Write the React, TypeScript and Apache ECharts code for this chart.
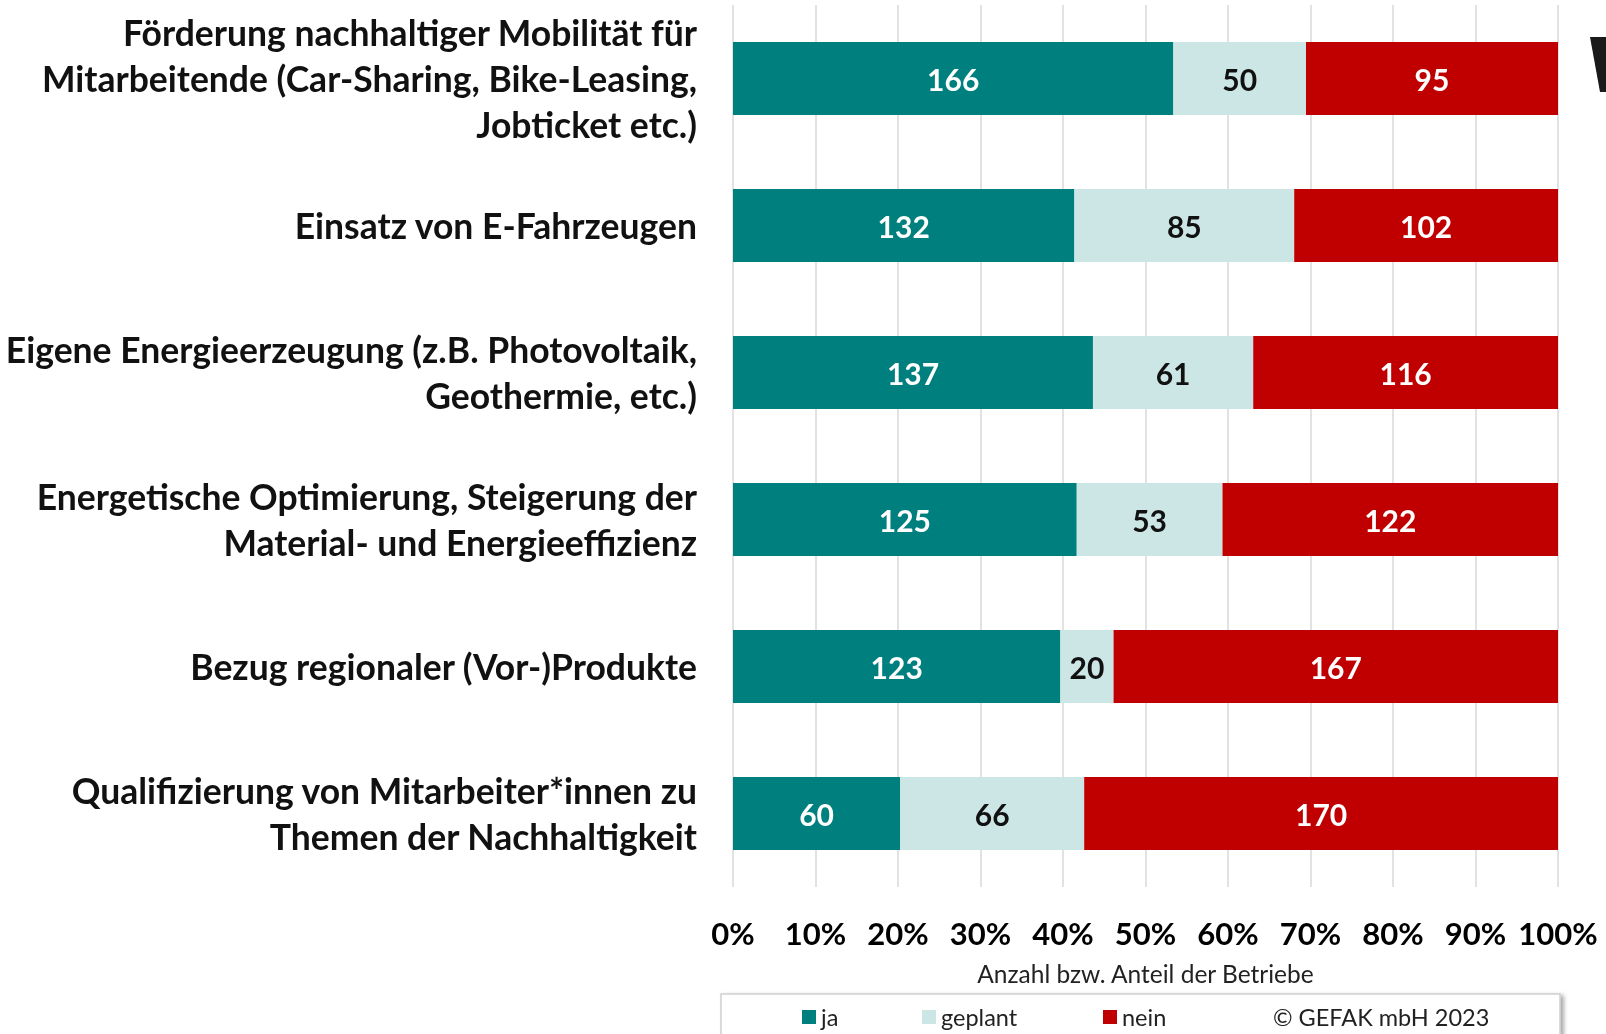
import React, { useEffect, useRef } from "react";
import * as echarts from "echarts";

const categories = [
  "Förderung nachhaltiger Mobilität für\nMitarbeitende (Car-Sharing, Bike-Leasing,\nJobticket etc.)",
  "Einsatz von E-Fahrzeugen",
  "Eigene Energieerzeugung (z.B. Photovoltaik,\nGeothermie, etc.)",
  "Energetische Optimierung, Steigerung der\nMaterial- und Energieeffizienz",
  "Bezug regionaler (Vor-)Produkte",
  "Qualifizierung von Mitarbeiter*innen zu\nThemen der Nachhaltigkeit",
];
const jaValues = [166, 132, 137, 125, 123, 60];
const geplantValues = [50, 85, 61, 53, 20, 66];
const neinValues = [95, 102, 116, 122, 167, 170];
const seriesNames = ["ja", "geplant", "nein"];
const axisTitle = "Anzahl bzw. Anteil der Betriebe";
const copyright = "© GEFAK mbH 2023";

const FONT = "Lato, 'Open Sans', sans-serif";

export default function App() {
  const ref = useRef<HTMLDivElement>(null);
  useEffect(() => {
    if (!ref.current) return;
    const chart = echarts.init(ref.current, null, { renderer: "svg" });
    const totals = jaValues.map((v, i) => v + geplantValues[i] + neinValues[i]);
    const pct = (arr: number[]) =>
      arr.map((v, i) => ({ value: (v / totals[i]) * 100, count: v }));
    const colors = ["#007F7F", "#CCE6E6", "#C00000"];
    const labelColors = ["#FFFFFF", "#111111", "#FFFFFF"];
    const all = [jaValues, geplantValues, neinValues];
    const legendX = [797, 917, 1098];

    chart.setOption({
      animation: false,
      textStyle: { fontFamily: FONT },
      grid: { left: 733, right: 48, top: 5, bottom: 147, containLabel: false },
      xAxis: {
        type: "value",
        min: 0,
        max: 100,
        interval: 10,
        axisLine: { show: false },
        axisTick: { show: false },
        splitLine: { show: true, lineStyle: { color: "#D9D9D9", width: 1.5 } },
        axisLabel: {
          formatter: "{value}%",
          fontSize: 31,
          fontWeight: "bold",
          color: "#000",
          margin: 30,
          fontFamily: FONT,
        },
        name: axisTitle,
        nameLocation: "middle",
        nameGap: 74,
        nameTextStyle: { fontSize: 24.5, color: "#222", fontFamily: FONT },
      },
      yAxis: {
        type: "category",
        inverse: true,
        data: categories,
        axisLine: { show: false },
        axisTick: { show: false },
        axisLabel: {
          fontSize: 35.5,
          fontWeight: "bold",
          color: "#111",
          margin: 36,
          lineHeight: 46,
          align: "right",
          padding: [0, 0, 7, 0],
          fontFamily: FONT,
        },
      },
      legend: seriesNames.map((n, i) => ({
        data: [n],
        left: legendX[i],
        top: 1000,
        icon: "rect",
        itemWidth: 14,
        itemHeight: 14,
        textStyle: { fontSize: 23.5, color: "#222", fontFamily: FONT },
        selectedMode: false,
      })),
      series: seriesNames.map((n, i) => ({
        name: n,
        type: "bar",
        stack: "total",
        barWidth: 73,
        data: pct(all[i]),
        itemStyle: { color: colors[i] },
        label: {
          show: true,
          position: "inside",
          formatter: (p: any) => String(p.data.count),
          fontSize: 30,
          fontWeight: "bold",
          color: labelColors[i],
          fontFamily: FONT,
        },
      })),
      graphic: [
        {
          type: "rect",
          shape: { x: 721, y: 994, width: 839, height: 60 },
          style: {
            fill: "#fff",
            stroke: "#D0D0D0",
            lineWidth: 1.5,
            shadowBlur: 4,
            shadowOffsetX: 3,
            shadowOffsetY: 2,
            shadowColor: "rgba(0,0,0,0.35)",
          },
          z: -1,
        },
        {
          type: "text",
          x: 1273,
          y: 1017,
          style: {
            text: copyright,
            fontSize: 23.5,
            fill: "#222",
            fontFamily: FONT,
            textVerticalAlign: "middle",
          },
        },
        {
          type: "polygon",
          shape: {
            points: [
              [1590, 37],
              [1606, 37],
              [1606, 92],
              [1600, 92],
            ],
          },
          style: { fill: "#1a1a1a" },
        },
      ],
    });
    return () => chart.dispose();
  }, []);
  return (
    <div
      ref={ref}
      style={{ position: "fixed", left: 0, top: 0, width: 1606, height: 1034 }}
    />
  );
}
